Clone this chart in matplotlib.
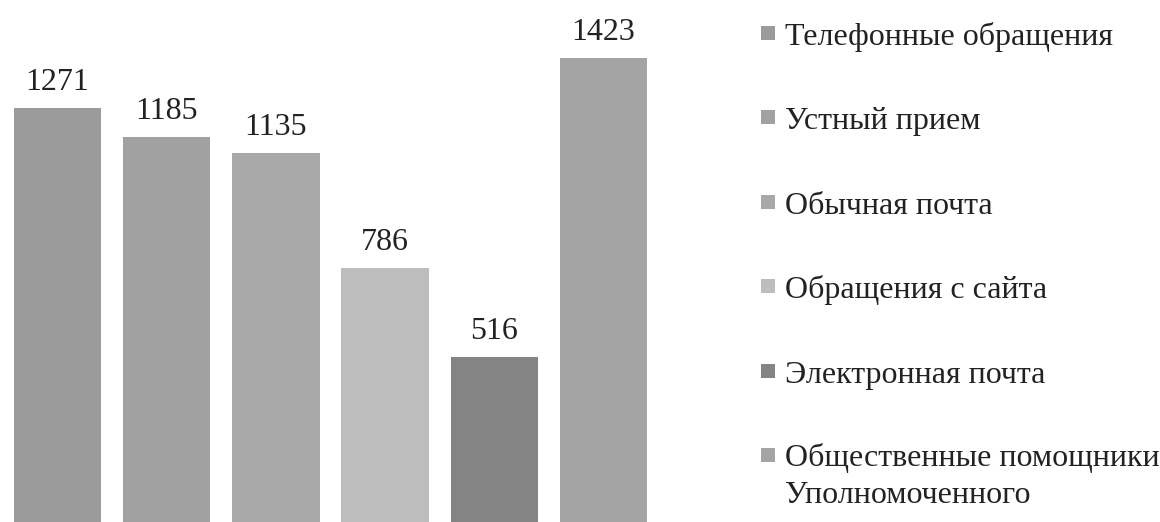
import matplotlib.pyplot as plt
from matplotlib.patches import Rectangle

categories = [
    "Телефонные обращения",
    "Устный прием",
    "Обычная почта",
    "Обращения с сайта",
    "Электронная почта",
    "Общественные помощники\nУполномоченного",
]
values = [1271, 1185, 1135, 786, 516, 1423]
colors = ["#9b9b9b", "#a1a1a1", "#a8a8a8", "#bdbdbd", "#848484", "#a4a4a4"]

plt.rcParams["font.family"] = "Liberation Serif"

W, H = 1160, 522
fig = plt.figure(figsize=(W / 100, H / 100), dpi=100)
# axes runs a little below the figure edge, like the cropped scan
ax = fig.add_axes([3 / W, -5 / H, 655 / W, 527 / H])

x = range(len(values))
bars = ax.bar(x, values, width=0.8, color=colors)

ax.bar_label(bars, labels=[str(v) for v in values], padding=8, fontsize=23, color="#222222")

ax.set_xlim(-0.5, len(values) - 0.5)
ax.set_ylim(0, 1600)
ax.axis("off")

# legend drawn by hand so the marker sits on the first line of a two-line label
first_center = 33
pitch = 84.4
line_px = 36
for i, (cat, col) in enumerate(zip(categories, colors)):
    yc = first_center + i * pitch
    fig.patches.append(Rectangle(
        (761 / W, 1 - (yc + 7) / H), 14 / W, 14 / H,
        transform=fig.transFigure, facecolor=col, edgecolor="none",
    ))
    # va="baseline" pins the last line, so push down for extra lines
    extra = cat.count("\n") * line_px
    fig.text(785 / W, 1 - (yc + 12 + extra) / H, cat, fontsize=23, color="#222222",
             va="baseline", ha="left", linespacing=1.36)

fig.savefig("out.png", dpi=100)
